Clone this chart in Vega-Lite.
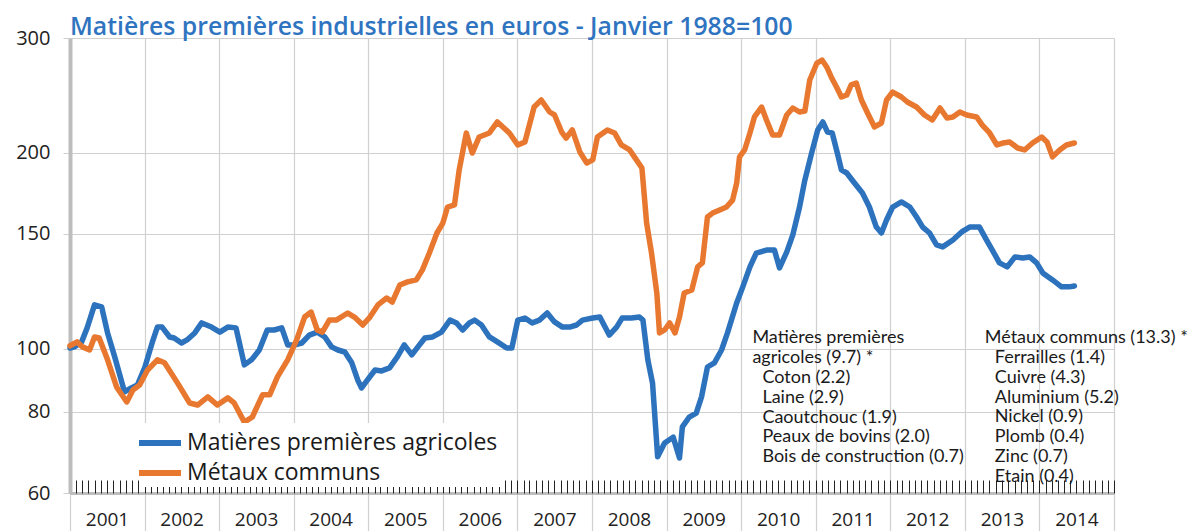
{
"$schema": "https://vega.github.io/schema/vega-lite/v6.json",
"width": 1044, "height": 455,
"autosize": {"type": "none"},
"padding": {"left": 70, "top": 38, "right": 76, "bottom": 38},
"background": "white",
"title": {"text": "Matières premières industrielles en euros - Janvier 1988=100", "anchor": "start", "frame": "group", "font": "Open Sans", "fontSize": 24.8, "fontWeight": 600, "color": "#2F74C0", "baseline": "alphabetic", "offset": 2, "dy": 34},
"config": {"view": {"stroke": null}, "font": "Open Sans"},
"resolve": {"axis": {"x": "independent", "y": "independent"}},
"datasets": {
"series": [
{"s":"Matières premières agricoles","d":"2001-01-01","v":100.2},
{"s":"Matières premières agricoles","d":"2001-01-24","v":100.6},
{"s":"Matières premières agricoles","d":"2001-02-27","v":102.4},
{"s":"Matières premières agricoles","d":"2001-03-26","v":107.6},
{"s":"Matières premières agricoles","d":"2001-05-01","v":116.7},
{"s":"Matières premières agricoles","d":"2001-06-05","v":115.9},
{"s":"Matières premières agricoles","d":"2001-07-04","v":105.7},
{"s":"Matières premières agricoles","d":"2001-08-08","v":97.1},
{"s":"Matières premières agricoles","d":"2001-09-25","v":85.8},
{"s":"Matières premières agricoles","d":"2001-10-28","v":87.0},
{"s":"Matières premières agricoles","d":"2001-11-27","v":87.9},
{"s":"Matières premières agricoles","d":"2002-01-03","v":93.7},
{"s":"Matières premières agricoles","d":"2002-02-07","v":102.0},
{"s":"Matières premières agricoles","d":"2002-03-05","v":107.9},
{"s":"Matières premières agricoles","d":"2002-03-28","v":107.9},
{"s":"Matières premières agricoles","d":"2002-05-04","v":104.2},
{"s":"Matières premières agricoles","d":"2002-05-26","v":103.8},
{"s":"Matières premières agricoles","d":"2002-07-01","v":102.0},
{"s":"Matières premières agricoles","d":"2002-07-28","v":103.1},
{"s":"Matières premières agricoles","d":"2002-09-04","v":105.7},
{"s":"Matières premières agricoles","d":"2002-10-08","v":109.5},
{"s":"Matières premières agricoles","d":"2002-11-25","v":107.9},
{"s":"Matières premières agricoles","d":"2003-01-05","v":106.0},
{"s":"Matières premières agricoles","d":"2003-02-13","v":107.9},
{"s":"Matières premières agricoles","d":"2003-03-25","v":107.6},
{"s":"Matières premières agricoles","d":"2003-05-05","v":94.4},
{"s":"Matières premières agricoles","d":"2003-06-09","v":96.1},
{"s":"Matières premières agricoles","d":"2003-07-17","v":99.5},
{"s":"Matières premières agricoles","d":"2003-08-25","v":106.8},
{"s":"Matières premières agricoles","d":"2003-09-28","v":106.8},
{"s":"Matières premières agricoles","d":"2003-11-04","v":107.6},
{"s":"Matières premières agricoles","d":"2003-12-03","v":101.3},
{"s":"Matières premières agricoles","d":"2004-01-07","v":101.3},
{"s":"Matières premières agricoles","d":"2004-02-10","v":102.0},
{"s":"Matières premières agricoles","d":"2004-03-18","v":104.9},
{"s":"Matières premières agricoles","d":"2004-04-26","v":106.0},
{"s":"Matières premières agricoles","d":"2004-06-02","v":104.2},
{"s":"Matières premières agricoles","d":"2004-07-05","v":100.6},
{"s":"Matières premières agricoles","d":"2004-08-05","v":99.5},
{"s":"Matières premières agricoles","d":"2004-09-08","v":98.8},
{"s":"Matières premières agricoles","d":"2004-10-12","v":95.1},
{"s":"Matières premières agricoles","d":"2004-11-10","v":89.5},
{"s":"Matières premières agricoles","d":"2004-11-29","v":87.0},
{"s":"Matières premières agricoles","d":"2004-12-28","v":89.5},
{"s":"Matières premières agricoles","d":"2005-02-03","v":92.7},
{"s":"Matières premières agricoles","d":"2005-03-07","v":92.4},
{"s":"Matières premières agricoles","d":"2005-04-15","v":93.4},
{"s":"Matières premières agricoles","d":"2005-05-23","v":97.1},
{"s":"Matières premières agricoles","d":"2005-06-26","v":101.3},
{"s":"Matières premières agricoles","d":"2005-08-02","v":97.8},
{"s":"Matières premières agricoles","d":"2005-09-01","v":100.6},
{"s":"Matières premières agricoles","d":"2005-10-05","v":103.8},
{"s":"Matières premières agricoles","d":"2005-11-12","v":104.2},
{"s":"Matières premières agricoles","d":"2005-12-25","v":106.0},
{"s":"Matières premières agricoles","d":"2006-02-05","v":110.6},
{"s":"Matières premières agricoles","d":"2006-03-09","v":109.5},
{"s":"Matières premières agricoles","d":"2006-04-08","v":106.8},
{"s":"Matières premières agricoles","d":"2006-05-11","v":109.5},
{"s":"Matières premières agricoles","d":"2006-06-06","v":110.6},
{"s":"Matières premières agricoles","d":"2006-07-09","v":108.7},
{"s":"Matières premières agricoles","d":"2006-08-17","v":104.2},
{"s":"Matières premières agricoles","d":"2006-09-25","v":102.4},
{"s":"Matières premières agricoles","d":"2006-11-10","v":100.2},
{"s":"Matières premières agricoles","d":"2006-12-05","v":100.2},
{"s":"Matières premières agricoles","d":"2007-01-03","v":110.6},
{"s":"Matières premières agricoles","d":"2007-02-07","v":111.4},
{"s":"Matières premières agricoles","d":"2007-03-15","v":109.5},
{"s":"Matières premières agricoles","d":"2007-04-19","v":110.6},
{"s":"Matières premières agricoles","d":"2007-05-27","v":113.4},
{"s":"Matières premières agricoles","d":"2007-07-02","v":109.9},
{"s":"Matières premières agricoles","d":"2007-08-10","v":107.9},
{"s":"Matières premières agricoles","d":"2007-09-14","v":107.9},
{"s":"Matières premières agricoles","d":"2007-10-18","v":108.7},
{"s":"Matières premières agricoles","d":"2007-11-16","v":110.6},
{"s":"Matières premières agricoles","d":"2008-01-05","v":111.4},
{"s":"Matières premières agricoles","d":"2008-02-09","v":111.8},
{"s":"Matières premières agricoles","d":"2008-03-26","v":104.9},
{"s":"Matières premières agricoles","d":"2008-05-01","v":107.9},
{"s":"Matières premières agricoles","d":"2008-05-28","v":111.4},
{"s":"Matières premières agricoles","d":"2008-07-13","v":111.4},
{"s":"Matières premières agricoles","d":"2008-08-21","v":111.8},
{"s":"Matières premières agricoles","d":"2008-09-07","v":110.6},
{"s":"Matières premières agricoles","d":"2008-10-01","v":96.1},
{"s":"Matières premières agricoles","d":"2008-10-24","v":88.5},
{"s":"Matières premières agricoles","d":"2008-11-18","v":68.2},
{"s":"Matières premières agricoles","d":"2008-12-22","v":71.6},
{"s":"Matières premières agricoles","d":"2009-02-02","v":73.1},
{"s":"Matières premières agricoles","d":"2009-03-05","v":67.9},
{"s":"Matières premières agricoles","d":"2009-03-19","v":75.8},
{"s":"Matières premières agricoles","d":"2009-04-22","v":78.5},
{"s":"Matières premières agricoles","d":"2009-05-26","v":79.6},
{"s":"Matières premières agricoles","d":"2009-06-21","v":84.3},
{"s":"Matières premières agricoles","d":"2009-07-20","v":93.7},
{"s":"Matières premières agricoles","d":"2009-08-23","v":95.1},
{"s":"Matières premières agricoles","d":"2009-09-27","v":99.5},
{"s":"Matières premières agricoles","d":"2009-10-26","v":105.7},
{"s":"Matières premières agricoles","d":"2009-12-10","v":117.5},
{"s":"Matières premières agricoles","d":"2010-01-09","v":124.4},
{"s":"Matières premières agricoles","d":"2010-02-13","v":133.5},
{"s":"Matières premières agricoles","d":"2010-03-16","v":140.2},
{"s":"Matières premières agricoles","d":"2010-05-05","v":141.7},
{"s":"Matières premières agricoles","d":"2010-06-13","v":141.7},
{"s":"Matières premières agricoles","d":"2010-07-08","v":133.0},
{"s":"Matières premières agricoles","d":"2010-08-12","v":140.7},
{"s":"Matières premières agricoles","d":"2010-09-11","v":149.5},
{"s":"Matières premières agricoles","d":"2010-10-14","v":165.0},
{"s":"Matières premières agricoles","d":"2010-11-09","v":181.5},
{"s":"Matières premières agricoles","d":"2010-12-12","v":199.7},
{"s":"Matières premières agricoles","d":"2011-01-11","v":216.7},
{"s":"Matières premières agricoles","d":"2011-02-05","v":222.9},
{"s":"Matières premières agricoles","d":"2011-02-28","v":215.1},
{"s":"Matières premières agricoles","d":"2011-03-23","v":214.4},
{"s":"Matières premières agricoles","d":"2011-04-17","v":199.7},
{"s":"Matières premières agricoles","d":"2011-05-07","v":188.1},
{"s":"Matières premières agricoles","d":"2011-06-02","v":186.1},
{"s":"Matières premières agricoles","d":"2011-07-10","v":179.6},
{"s":"Matières premières agricoles","d":"2011-08-18","v":173.4},
{"s":"Matières premières agricoles","d":"2011-09-21","v":165.0},
{"s":"Matières premières agricoles","d":"2011-10-25","v":153.7},
{"s":"Matières premières agricoles","d":"2011-11-19","v":150.5},
{"s":"Matières premières agricoles","d":"2011-12-14","v":157.6},
{"s":"Matières premières agricoles","d":"2012-01-13","v":165.0},
{"s":"Matières premières agricoles","d":"2012-02-25","v":168.0},
{"s":"Matières premières agricoles","d":"2012-04-06","v":165.0},
{"s":"Matières premières agricoles","d":"2012-05-09","v":159.3},
{"s":"Matières premières agricoles","d":"2012-06-08","v":153.7},
{"s":"Matières premières agricoles","d":"2012-07-12","v":150.5},
{"s":"Matières premières agricoles","d":"2012-08-15","v":144.3},
{"s":"Matières premières agricoles","d":"2012-09-14","v":143.3},
{"s":"Matières premières agricoles","d":"2012-11-03","v":146.8},
{"s":"Matières premières agricoles","d":"2012-12-16","v":151.1},
{"s":"Matières premières agricoles","d":"2013-01-24","v":153.7},
{"s":"Matières premières agricoles","d":"2013-03-13","v":153.7},
{"s":"Matières premières agricoles","d":"2013-04-17","v":146.8},
{"s":"Matières premières agricoles","d":"2013-05-15","v":141.7},
{"s":"Matières premières agricoles","d":"2013-06-19","v":135.4},
{"s":"Matières premières agricoles","d":"2013-07-27","v":133.5},
{"s":"Matières premières agricoles","d":"2013-09-03","v":138.3},
{"s":"Matières premières agricoles","d":"2013-10-11","v":137.8},
{"s":"Matières premières agricoles","d":"2013-11-14","v":138.3},
{"s":"Matières premières agricoles","d":"2013-12-18","v":135.4},
{"s":"Matières premières agricoles","d":"2014-01-17","v":130.7},
{"s":"Matières premières agricoles","d":"2014-03-06","v":127.5},
{"s":"Matières premières agricoles","d":"2014-04-19","v":124.4},
{"s":"Matières premières agricoles","d":"2014-05-27","v":124.4},
{"s":"Matières premières agricoles","d":"2014-06-21","v":124.8},
{"s":"Métaux communs","d":"2001-01-01","v":101.0},
{"s":"Métaux communs","d":"2001-02-05","v":102.4},
{"s":"Métaux communs","d":"2001-03-03","v":100.6},
{"s":"Métaux communs","d":"2001-04-07","v":99.5},
{"s":"Métaux communs","d":"2001-05-01","v":104.2},
{"s":"Métaux communs","d":"2001-05-24","v":103.8},
{"s":"Métaux communs","d":"2001-07-04","v":96.1},
{"s":"Métaux communs","d":"2001-08-17","v":87.3},
{"s":"Métaux communs","d":"2001-10-06","v":82.8},
{"s":"Métaux communs","d":"2001-11-05","v":86.4},
{"s":"Métaux communs","d":"2001-12-08","v":87.9},
{"s":"Métaux communs","d":"2002-01-16","v":92.7},
{"s":"Métaux communs","d":"2002-03-05","v":96.1},
{"s":"Métaux communs","d":"2002-04-09","v":95.1},
{"s":"Métaux communs","d":"2002-06-12","v":88.5},
{"s":"Métaux communs","d":"2002-08-10","v":82.5},
{"s":"Métaux communs","d":"2002-09-18","v":81.9},
{"s":"Métaux communs","d":"2002-11-07","v":84.3},
{"s":"Métaux communs","d":"2002-12-24","v":81.9},
{"s":"Métaux communs","d":"2003-02-13","v":84.0},
{"s":"Métaux communs","d":"2003-03-16","v":82.5},
{"s":"Métaux communs","d":"2003-05-05","v":77.1},
{"s":"Métaux communs","d":"2003-06-13","v":78.5},
{"s":"Métaux communs","d":"2003-08-02","v":84.9},
{"s":"Métaux communs","d":"2003-09-06","v":84.9},
{"s":"Métaux communs","d":"2003-10-14","v":90.5},
{"s":"Métaux communs","d":"2003-12-03","v":96.1},
{"s":"Métaux communs","d":"2004-01-16","v":103.1},
{"s":"Métaux communs","d":"2004-02-24","v":111.8},
{"s":"Métaux communs","d":"2004-03-27","v":113.8},
{"s":"Métaux communs","d":"2004-04-26","v":106.8},
{"s":"Métaux communs","d":"2004-05-21","v":106.0},
{"s":"Métaux communs","d":"2004-06-24","v":110.6},
{"s":"Métaux communs","d":"2004-07-28","v":110.6},
{"s":"Métaux communs","d":"2004-09-22","v":113.4},
{"s":"Métaux communs","d":"2004-10-25","v":111.8},
{"s":"Métaux communs","d":"2004-12-05","v":108.7},
{"s":"Métaux communs","d":"2005-01-09","v":111.8},
{"s":"Métaux communs","d":"2005-02-17","v":116.7},
{"s":"Métaux communs","d":"2005-04-01","v":119.6},
{"s":"Métaux communs","d":"2005-04-28","v":117.9},
{"s":"Métaux communs","d":"2005-06-04","v":125.2},
{"s":"Métaux communs","d":"2005-07-12","v":126.6},
{"s":"Métaux communs","d":"2005-08-24","v":127.5},
{"s":"Métaux communs","d":"2005-09-23","v":132.1},
{"s":"Métaux communs","d":"2005-10-27","v":140.2},
{"s":"Métaux communs","d":"2005-12-03","v":150.5},
{"s":"Métaux communs","d":"2006-01-01","v":155.9},
{"s":"Métaux communs","d":"2006-01-24","v":165.0},
{"s":"Métaux communs","d":"2006-02-27","v":166.2},
{"s":"Métaux communs","d":"2006-03-22","v":188.1},
{"s":"Métaux communs","d":"2006-04-26","v":214.4},
{"s":"Métaux communs","d":"2006-05-25","v":199.7},
{"s":"Métaux communs","d":"2006-06-28","v":211.4},
{"s":"Métaux communs","d":"2006-08-17","v":214.4},
{"s":"Métaux communs","d":"2006-09-25","v":222.9},
{"s":"Métaux communs","d":"2006-11-23","v":214.4},
{"s":"Métaux communs","d":"2007-01-03","v":205.5},
{"s":"Métaux communs","d":"2007-02-07","v":207.7},
{"s":"Métaux communs","d":"2007-03-24","v":235.0},
{"s":"Métaux communs","d":"2007-04-28","v":240.9},
{"s":"Métaux communs","d":"2007-06-08","v":230.9},
{"s":"Métaux communs","d":"2007-07-02","v":228.5},
{"s":"Métaux communs","d":"2007-08-06","v":215.1},
{"s":"Métaux communs","d":"2007-08-28","v":210.6},
{"s":"Métaux communs","d":"2007-09-27","v":216.7},
{"s":"Métaux communs","d":"2007-11-03","v":200.5},
{"s":"Métaux communs","d":"2007-12-07","v":192.8},
{"s":"Métaux communs","d":"2008-01-05","v":194.9},
{"s":"Métaux communs","d":"2008-01-28","v":211.4},
{"s":"Métaux communs","d":"2008-03-17","v":216.7},
{"s":"Métaux communs","d":"2008-04-21","v":214.4},
{"s":"Métaux communs","d":"2008-05-24","v":205.5},
{"s":"Métaux communs","d":"2008-07-04","v":201.9},
{"s":"Métaux communs","d":"2008-07-27","v":197.0},
{"s":"Métaux communs","d":"2008-09-02","v":189.4},
{"s":"Métaux communs","d":"2008-09-25","v":155.9},
{"s":"Métaux communs","d":"2008-10-19","v":140.2},
{"s":"Métaux communs","d":"2008-11-14","v":121.7},
{"s":"Métaux communs","d":"2008-11-27","v":105.7},
{"s":"Métaux communs","d":"2008-12-22","v":106.8},
{"s":"Métaux communs","d":"2009-01-16","v":109.5},
{"s":"Métaux communs","d":"2009-02-11","v":105.7},
{"s":"Métaux communs","d":"2009-03-05","v":111.8},
{"s":"Métaux communs","d":"2009-03-28","v":121.7},
{"s":"Métaux communs","d":"2009-05-04","v":123.0},
{"s":"Métaux communs","d":"2009-06-02","v":133.5},
{"s":"Métaux communs","d":"2009-06-25","v":135.4},
{"s":"Métaux communs","d":"2009-07-20","v":159.3},
{"s":"Métaux communs","d":"2009-08-14","v":161.5},
{"s":"Métaux communs","d":"2009-09-18","v":163.3},
{"s":"Métaux communs","d":"2009-10-21","v":165.0},
{"s":"Métaux communs","d":"2009-11-20","v":169.1},
{"s":"Métaux communs","d":"2009-12-10","v":179.6},
{"s":"Métaux communs","d":"2009-12-24","v":197.0},
{"s":"Métaux communs","d":"2010-01-18","v":201.9},
{"s":"Métaux communs","d":"2010-02-13","v":214.4},
{"s":"Métaux communs","d":"2010-03-07","v":226.9},
{"s":"Métaux communs","d":"2010-04-11","v":235.0},
{"s":"Métaux communs","d":"2010-05-05","v":224.5},
{"s":"Métaux communs","d":"2010-06-04","v":212.9},
{"s":"Métaux communs","d":"2010-07-08","v":212.9},
{"s":"Métaux communs","d":"2010-08-12","v":228.5},
{"s":"Métaux communs","d":"2010-09-11","v":234.2},
{"s":"Métaux communs","d":"2010-10-14","v":230.9},
{"s":"Métaux communs","d":"2010-11-09","v":231.7},
{"s":"Métaux communs","d":"2010-12-03","v":258.6},
{"s":"Métaux communs","d":"2011-01-07","v":274.6},
{"s":"Métaux communs","d":"2011-02-01","v":277.5},
{"s":"Métaux communs","d":"2011-02-24","v":270.8},
{"s":"Métaux communs","d":"2011-03-18","v":261.4},
{"s":"Métaux communs","d":"2011-04-13","v":252.3},
{"s":"Métaux communs","d":"2011-05-07","v":243.5},
{"s":"Métaux communs","d":"2011-06-02","v":245.2},
{"s":"Métaux communs","d":"2011-06-24","v":254.1},
{"s":"Métaux communs","d":"2011-07-19","v":255.8},
{"s":"Métaux communs","d":"2011-08-13","v":240.9},
{"s":"Métaux communs","d":"2011-09-12","v":230.1},
{"s":"Métaux communs","d":"2011-10-16","v":219.0},
{"s":"Métaux communs","d":"2011-11-19","v":222.1},
{"s":"Métaux communs","d":"2011-12-14","v":240.9},
{"s":"Métaux communs","d":"2012-01-13","v":247.8},
{"s":"Métaux communs","d":"2012-02-25","v":243.5},
{"s":"Métaux communs","d":"2012-03-25","v":239.2},
{"s":"Métaux communs","d":"2012-05-09","v":235.0},
{"s":"Métaux communs","d":"2012-06-17","v":228.5},
{"s":"Métaux communs","d":"2012-07-25","v":224.5},
{"s":"Métaux communs","d":"2012-09-01","v":234.2},
{"s":"Métaux communs","d":"2012-10-05","v":226.1},
{"s":"Métaux communs","d":"2012-11-03","v":226.9},
{"s":"Métaux communs","d":"2012-12-07","v":230.9},
{"s":"Métaux communs","d":"2013-01-10","v":228.5},
{"s":"Métaux communs","d":"2013-02-27","v":226.9},
{"s":"Métaux communs","d":"2013-03-27","v":220.5},
{"s":"Métaux communs","d":"2013-05-02","v":214.4},
{"s":"Métaux communs","d":"2013-06-06","v":205.5},
{"s":"Métaux communs","d":"2013-07-05","v":206.9},
{"s":"Métaux communs","d":"2013-08-08","v":207.7},
{"s":"Métaux communs","d":"2013-09-16","v":203.3},
{"s":"Métaux communs","d":"2013-10-20","v":201.9},
{"s":"Métaux communs","d":"2013-11-28","v":206.9},
{"s":"Métaux communs","d":"2014-01-12","v":211.4},
{"s":"Métaux communs","d":"2014-02-07","v":207.7},
{"s":"Métaux communs","d":"2014-03-06","v":197.0},
{"s":"Métaux communs","d":"2014-04-10","v":201.9},
{"s":"Métaux communs","d":"2014-05-13","v":205.5},
{"s":"Métaux communs","d":"2014-06-21","v":206.9}
],
"notes": [
{"d":"2010-02-25","v":102.0,"t":"Matières premières\nagricoles (9.7) *"},
{"d":"2010-04-15","v":88.6,"t":"Coton (2.2)\nLaine (2.9)\nCaoutchouc (1.9)\nPeaux de bovins (2.0)\nBois de construction (0.7)"},
{"d":"2013-04-08","v":102.0,"t":"Métaux communs (13.3) *"},
{"d":"2013-05-27","v":95.1,"t":"Ferrailles (1.4)\nCuivre (4.3)\nAluminium (5.2)\nNickel (0.9)\nPlomb (0.4)\nZinc (0.7)\nEtain (0.4)"}
]
},
"layer": [
{
"data": {"name": "series"},
"mark": {"type": "line", "strokeWidth": 5.5, "strokeJoin": "round", "strokeCap": "round"},
"encoding": {
"x": {"field": "d", "type": "temporal",
"scale": {"type": "utc", "domain": [{"year": 2001, "month": 1, "date": 1, "utc": true}, {"year": 2015, "month": 1, "date": 1, "utc": true}]},
"axis": {"orient": "bottom", "tickCount": {"interval": "year", "step": 1}, "grid": true, "gridColor": "#D0D0D0", "gridWidth": 1.2, "ticks": true, "tickSize": 38, "tickColor": "#D0D0D0", "tickWidth": 1.2, "labels": false, "domain": true, "domainColor": "#BDBDBD", "domainWidth": 3, "title": null}},
"y": {"field": "v", "type": "quantitative",
"scale": {"type": "log", "domain": [60, 300], "nice": false},
"axis": {"values": [60, 80, 100, 150, 200, 300], "grid": true, "gridColor": "#D0D0D0", "gridWidth": 1.2, "tickSize": 7, "tickColor": "#D0D0D0", "domain": true, "domainColor": "#BDBDBD", "domainWidth": 4, "labelFontSize": 20, "labelColor": "#222222", "labelPadding": 13, "title": null, "format": "d"}},
"color": {"field": "s", "type": "nominal",
"scale": {"domain": ["Matières premières agricoles", "Métaux communs"], "range": ["#2D72BD", "#E8782F"]},
"legend": {"title": null, "orient": "none", "legendX": 70, "legendY": 385, "symbolType": "M-1.4,0H1.4", "symbolStrokeWidth": 6, "symbolSize": 900, "labelFontSize": 23, "labelLimit": 500, "labelColor": "#1A1A1A", "labelOffset": 9, "rowPadding": -30, "fillColor": "white", "padding": 2}}
}
},
{
"data": {"name": "notes"},
"mark": {"type": "text", "align": "left", "baseline": "alphabetic", "fontSize": 18, "lineHeight": 19.9, "lineBreak": "\n", "color": "#1A1A1A", "font": "Lato"},
"encoding": {
"x": {"field": "d", "type": "temporal",
"scale": {"type": "utc", "domain": [{"year": 2001, "month": 1, "date": 1, "utc": true}, {"year": 2015, "month": 1, "date": 1, "utc": true}]},
"axis": {"orient": "bottom", "tickCount": {"interval": "month", "step": 1}, "grid": false, "domain": false, "ticks": true, "tickSize": -13, "tickColor": "#222222", "tickWidth": 1, "labelExpr": "utcmonth(datum.value) == 0 && utcyear(datum.value) < 2015 ? utcFormat(datum.value, '%Y') : ''", "labelOffset": 37, "labelPadding": 30, "labelFontSize": 19, "labelColor": "#222222", "labelOverlap": false, "labelFlush": false, "labelBound": false, "labelAlign": "center", "title": null}},
"y": {"field": "v", "type": "quantitative", "scale": {"type": "log", "domain": [60, 300], "nice": false}, "axis": null},
"text": {"field": "t", "type": "nominal"}
}
}
]
}
